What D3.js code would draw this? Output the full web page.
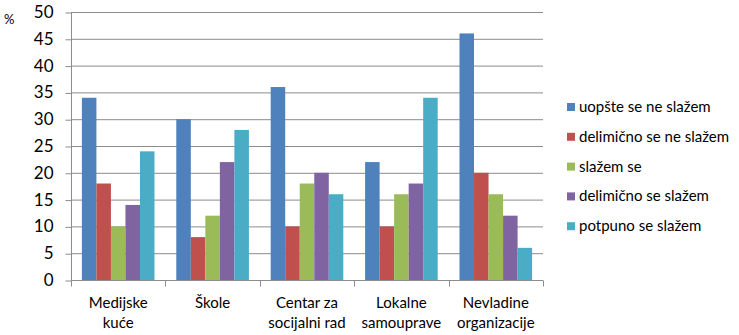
<!DOCTYPE html>
<html>
<head>
<meta charset="utf-8">
<script src="https://cdn.jsdelivr.net/npm/d3@7"></script>
<style>
  body { margin: 0; background: #fff; }
  text { font-family: Lato, "Open Sans", sans-serif; fill: #000; }
</style>
</head>
<body>
<div id="chart"></div>
<script>
var categories = [["Medijske", "kuće"], ["Škole"], ["Centar za", "socijalni rad"], ["Lokalne", "samouprave"], ["Nevladine", "organizacije"]];
var seriesNames = ["uopšte se ne slažem", "delimično se ne slažem", "slažem se", "delimično se slažem", "potpuno se slažem"];
var seriesValues = [
    [34, 30, 36, 22, 46],
    [18, 8, 10, 10, 20],
    [10, 12, 18, 16, 16],
    [14, 22, 20, 18, 12],
    [24, 28, 16, 34, 6]
];
var yTicks = [0, 5, 10, 15, 20, 25, 30, 35, 40, 45, 50];
var colors = ["#4f81bd", "#c0504d", "#9bbb59", "#8064a2", "#4bacc6"];

var width = 739, height = 335;
var margin = {top: 12, right: 196, bottom: 55, left: 71};
var w = width - margin.left - margin.right,
    h = height - margin.top - margin.bottom;

var svg = d3.select("#chart").append("svg")
    .attr("width", width)
    .attr("height", height);

var g = svg.append("g")
    .attr("transform", "translate(" + margin.left + "," + margin.top + ")");

var x0 = d3.scaleBand()
    .domain(d3.range(categories.length))
    .range([0, w])
    .paddingInner(0)
    .paddingOuter(0);

var x1 = d3.scaleBand()
    .domain(d3.range(seriesNames.length))
    .range([0, x0.bandwidth()])
    .paddingOuter(0.75)
    .paddingInner(0);

var y = d3.scaleLinear()
    .domain([0, 50])
    .range([h, 0]);

// gridlines
g.append("g")
    .selectAll("line")
    .data(yTicks.slice(1))
    .join("line")
    .attr("x1", 0)
    .attr("x2", w)
    .attr("y1", d => y(d) + 0.5)
    .attr("y2", d => y(d) + 0.5)
    .attr("stroke", "#8c8c8c")
    .attr("stroke-width", 1);

// bars
g.append("g")
    .selectAll("g")
    .data(categories)
    .join("g")
    .attr("transform", (d, i) => "translate(" + x0(i) + ",0)")
    .selectAll("rect")
    .data((d, i) => seriesValues.map((s, j) => ({s: j, v: s[i]})))
    .join("rect")
    .attr("x", d => x1(d.s))
    .attr("y", d => y(d.v))
    .attr("width", x1.bandwidth())
    .attr("height", d => h - y(d.v))
    .attr("fill", d => colors[d.s]);

// y axis
var yAxis = g.append("g")
    .attr("transform", "translate(0.5,0)")
    .call(d3.axisLeft(y).tickValues(yTicks).tickSize(6).tickPadding(12));
yAxis.selectAll("line").attr("stroke", "#8c8c8c").attr("transform", "translate(0,0.5)");
yAxis.select(".domain").attr("stroke", "#8c8c8c").attr("d", "M0,0V" + h);
yAxis.selectAll("text").style("font-size", "17px").style("font-family", "Lato, sans-serif");

// x axis
var xAxis = g.append("g")
    .attr("transform", "translate(0," + (h + 0.5) + ")");
xAxis.append("line")
    .attr("x1", 0).attr("x2", w)
    .attr("stroke", "#8c8c8c");
xAxis.selectAll(".tk")
    .data(d3.range(categories.length + 1))
    .join("line")
    .attr("class", "tk")
    .attr("x1", d => Math.round(d * x0.step()) + 0.5)
    .attr("x2", d => Math.round(d * x0.step()) + 0.5)
    .attr("y1", 0)
    .attr("y2", 6)
    .attr("stroke", "#8c8c8c");

xAxis.selectAll(".lbl")
    .data(categories)
    .join("text")
    .attr("class", "lbl")
    .attr("text-anchor", "middle")
    .attr("x", (d, i) => x0(i) + x0.bandwidth() / 2)
    .attr("y", 27)
    .style("font-size", "15px")
    .selectAll("tspan")
    .data(d => d)
    .join("tspan")
    .attr("x", function() { return this.parentNode.getAttribute("x"); })
    .attr("dy", (d, i) => i === 0 ? 0 : 20)
    .text(d => d);

// % label
svg.append("text")
    .attr("x", 4)
    .attr("y", 24)
    .style("font-size", "13px")
    .text("%");

// legend
var legend = svg.append("g")
    .attr("transform", "translate(567,107)");
var item = legend.selectAll("g")
    .data(seriesNames)
    .join("g")
    .attr("transform", (d, i) => "translate(0," + (i * 29.8) + ")");
item.append("rect")
    .attr("x", 0)
    .attr("y", -4)
    .attr("width", 8)
    .attr("height", 8)
    .attr("fill", (d, i) => colors[i]);
item.append("text")
    .attr("x", 12)
    .attr("y", 5)
    .style("font-size", "15px")
    .text(d => d);
</script>
</body>
</html>
